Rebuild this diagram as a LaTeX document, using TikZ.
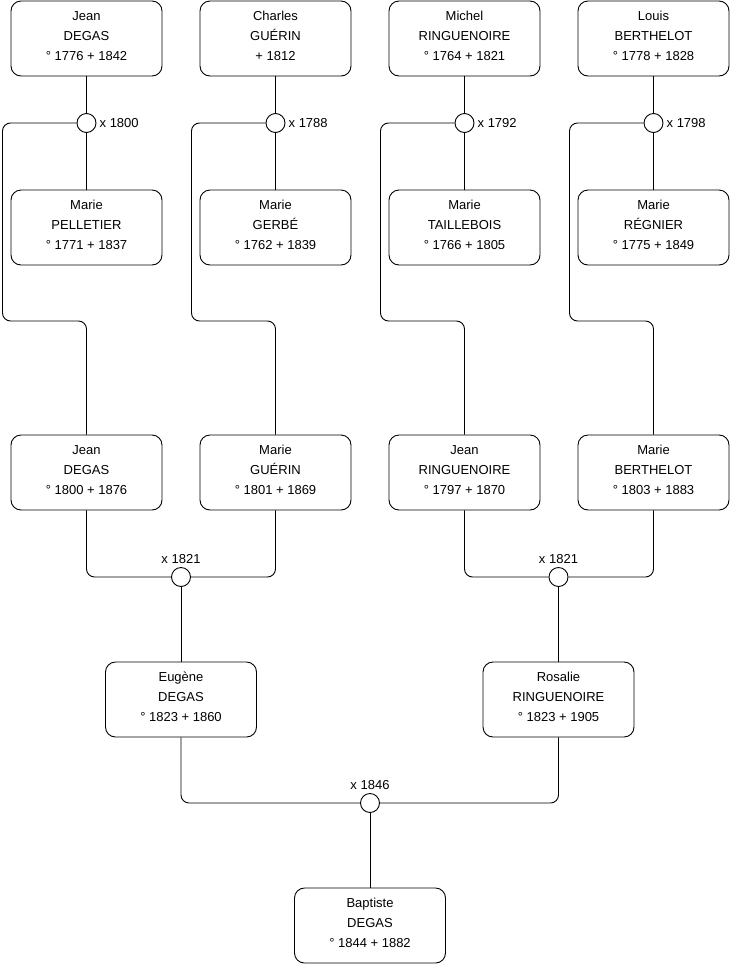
\documentclass[tikz,border=0pt]{standalone}
\usepackage{fontspec}
\setmainfont{Liberation Sans}
\usetikzlibrary{positioning}

\begin{document}
\begin{tikzpicture}[
  x=1pt, y=-1pt,
  font=\fontsize{13}{20}\selectfont,
  person/.style={draw, line width=0.9pt, rounded corners=10pt, fill=white, align=center,
    minimum width=151pt, minimum height=75pt, inner sep=0pt, text depth=5.5pt},
  wed/.style={draw, line width=0.9pt, circle, fill=white, minimum size=19pt, inner sep=0pt},
  link/.style={line width=0.9pt, rounded corners=8pt},
  year/.style={inner sep=2pt}
]
\useasboundingbox (0,0) rectangle (740,975);

% great-grandparents
\node[person] (degas1) at (86.5,38.5) {Jean\\DEGAS\\° 1776 + 1842};
\node[person] (guerin1) at (275.5,38.5) {Charles\\GUÉRIN\\+ 1812};
\node[person] (ringuenoire1) at (464.5,38.5) {Michel\\RINGUENOIRE\\° 1764 + 1821};
\node[person] (berthelot1) at (653.5,38.5) {Louis\\BERTHELOT\\° 1778 + 1828};

\node[wed] (w1800) at (86.5,123) {};
\node[wed] (w1788) at (275.5,123) {};
\node[wed] (w1792) at (464.5,123) {};
\node[wed] (w1798) at (653.5,123) {};
\node[year, right=1pt of w1800] {x 1800};
\node[year, right=1pt of w1788] {x 1788};
\node[year, right=1pt of w1792] {x 1792};
\node[year, right=1pt of w1798] {x 1798};

\node[person] (pelletier) at (86.5,227.5) {Marie\\PELLETIER\\° 1771 + 1837};
\node[person] (gerbe) at (275.5,227.5) {Marie\\GERBÉ\\° 1762 + 1839};
\node[person] (taillebois) at (464.5,227.5) {Marie\\TAILLEBOIS\\° 1766 + 1805};
\node[person] (regnier) at (653.5,227.5) {Marie\\RÉGNIER\\° 1775 + 1849};

% grandparents
\node[person] (degas2) at (86.5,472.5) {Jean\\DEGAS\\° 1800 + 1876};
\node[person] (guerin2) at (275.5,472.5) {Marie\\GUÉRIN\\° 1801 + 1869};
\node[person] (ringuenoire2) at (464.5,472.5) {Jean\\RINGUENOIRE\\° 1797 + 1870};
\node[person] (berthelot2) at (653.5,472.5) {Marie\\BERTHELOT\\° 1803 + 1883};

\node[wed] (w1821a) at (181,577) {};
\node[wed] (w1821b) at (558.5,577) {};
\node[year, above=1pt of w1821a] {x 1821};
\node[year, above=1pt of w1821b] {x 1821};

% parents
\node[person] (eugene) at (181,699.5) {Eugène\\DEGAS\\° 1823 + 1860};
\node[person] (rosalie) at (558.5,699.5) {Rosalie\\RINGUENOIRE\\° 1823 + 1905};

\node[wed] (w1846) at (370,803) {};
\node[year, above=1pt of w1846] {x 1846};

\node[person] (baptiste) at (370,925.5) {Baptiste\\DEGAS\\° 1844 + 1882};

\coordinate (turn1) at (2.5,321);
\coordinate (turn2) at (191.5,321);
\coordinate (turn3) at (380.5,321);
\coordinate (turn4) at (569.5,321);

\draw[link] (degas1) -- (w1800);
\draw[link] (w1800) -- (pelletier);
\draw[link] (guerin1) -- (w1788);
\draw[link] (w1788) -- (gerbe);
\draw[link] (ringuenoire1) -- (w1792);
\draw[link] (w1792) -- (taillebois);
\draw[link] (berthelot1) -- (w1798);
\draw[link] (w1798) -- (regnier);

\draw[link] (w1800.west) -| (turn1) -| (degas2.north);
\draw[link] (w1788.west) -| (turn2) -| (guerin2.north);
\draw[link] (w1792.west) -| (turn3) -| (ringuenoire2.north);
\draw[link] (w1798.west) -| (turn4) -| (berthelot2.north);

\draw[link] (degas2.south) |- (w1821a.west);
\draw[link] (guerin2.south) |- (w1821a.east);
\draw[link] (ringuenoire2.south) |- (w1821b.west);
\draw[link] (berthelot2.south) |- (w1821b.east);
\draw[link] (w1821a) -- (eugene);
\draw[link] (w1821b) -- (rosalie);

\draw[link] (eugene.south) |- (w1846.west);
\draw[link] (rosalie.south) |- (w1846.east);
\draw[link] (w1846) -- (baptiste);
\end{tikzpicture}
\end{document}
